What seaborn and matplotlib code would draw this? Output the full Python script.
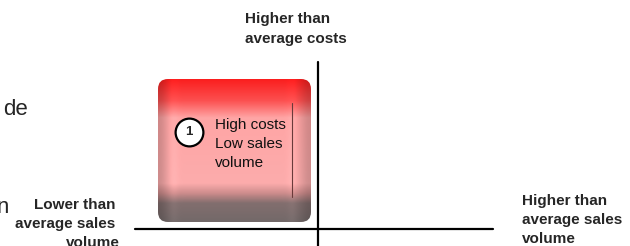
import numpy as np
import matplotlib
matplotlib.use("Agg")
import matplotlib.pyplot as plt
from matplotlib.patches import FancyBboxPatch
import seaborn as sns

sns.set_theme(style="white")
plt.rcParams['font.family'] = ['Liberation Sans', 'DejaVu Sans']

# chart content
cost_axis_label = ["Higher than", "average costs"]
low_volume_label = ["Lower than", "average sales", "volume"]
high_volume_label = ["Higher than", "average sales", "volume"]
quadrant_ids = ["1"]
quadrant_texts = [["High costs", "Low sales", "volume"]]
cut_off_words = ["de", "n"]

W, H = 630, 246
fig = plt.figure(figsize=(W / 100, H / 100), dpi=100)
ax = fig.add_axes([0, 0, 1, 1])
ax.set_xlim(0, W)
ax.set_ylim(H, 0)
ax.axis('off')

# quadrant box with gradient fill
bx, by, bw, bh = 158, 79, 153, 143
ys = np.linspace(0, 1, 200)
xs = np.linspace(0, 1, 150)
stops_y = [0.0, 0.15, 0.27, 0.73, 0.80, 0.87, 1.0]
stops_c = np.array([
    [250, 30, 30],
    [252, 80, 80],
    [255, 165, 165],
    [252, 172, 172],
    [205, 140, 140],
    [130, 110, 110],
    [115, 105, 105],
]) / 255.0
col = np.stack([np.interp(ys, stops_y, stops_c[:, k]) for k in range(3)], axis=1)
# horizontal shading near the edges
shade = np.ones_like(xs)
shade -= 0.18 * np.exp(-((xs - 0.0) / 0.06) ** 2)
shade -= 0.18 * np.exp(-((xs - 1.0) / 0.07) ** 2)
shade += 0.05 * np.exp(-((xs - 0.1) / 0.03) ** 2)
shade += 0.05 * np.exp(-((xs - 0.88) / 0.03) ** 2)
img = np.clip(col[:, None, :] * shade[None, :, None], 0, 1)

patch = FancyBboxPatch((bx, by), bw, bh, boxstyle="round,pad=0,rounding_size=10",
                       facecolor='none', edgecolor='none')
ax.add_patch(patch)
im = ax.imshow(img, extent=(bx, bx + bw, by + bh, by), aspect='auto',
               interpolation='bilinear', zorder=1)
im.set_clip_path(patch)

# thin line inside the box
ax.plot([292, 292], [103, 197], color='#6a3a3a', lw=0.8, zorder=2)

# quadrant marker and text
for qid, lines in zip(quadrant_ids, quadrant_texts):
    sns.scatterplot(x=[189], y=[131.5], s=400, color='white', edgecolor='black',
                    linewidth=1.6, ax=ax, zorder=3, legend=False)
    ax.text(189, 132, qid, ha='center', va='center', fontsize=9.5,
            fontweight='bold', zorder=4)
    for i, line in enumerate(lines):
        ax.text(215, 129 + 19 * i, line, fontsize=11, va='baseline', color='#111111', zorder=4)

# axis lines
ax.plot([135, 493], [229, 229], color='black', lw=1.6, zorder=2)
ax.plot([318, 318], [62, 246], color='black', lw=1.6, zorder=2)

# axis labels
for i, line in enumerate(cost_axis_label):
    ax.text(245, 23 + 20 * i, line, fontsize=11, fontweight='bold', va='baseline')
for i, line in enumerate(low_volume_label):
    ax.text(115 + (5 if i == 2 else 0), 209 + 19 * i, line, fontsize=11,
            fontweight='bold', va='baseline', ha='right')
for i, line in enumerate(high_volume_label):
    ax.text(522, 205 + 19 * i, line, fontsize=11, fontweight='bold', va='baseline')

# clipped words from the neighbouring slide text
ax.text(3, 115, cut_off_words[0], fontsize=16, va='baseline')
ax.text(9, 213, cut_off_words[1], fontsize=16, va='baseline', ha='right')

fig.savefig('out.png', dpi=100)
